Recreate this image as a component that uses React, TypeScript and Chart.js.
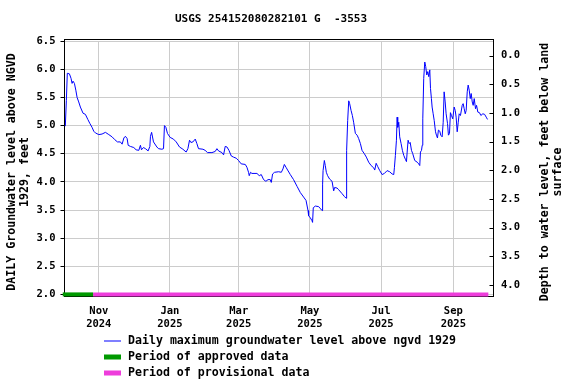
import React, { useEffect, useRef } from "react";
import { Chart, registerables } from "chart.js";

Chart.register(...registerables);

// ---------- data ----------
const TITLE = "USGS 254152080282101 G  -3553";
const Y_LEFT_TITLE = ["DAILY Groundwater level above NGVD", "1929, feet"];
const Y_RIGHT_TITLE = ["Depth to water level, feet below land", "surface"];

// x values are days since 2024-10-01
const X_TICK_DAYS = [31, 92, 151, 212, 273, 335];
const X_TICK_LABELS = [
  ["Nov", "2024"],
  ["Jan", "2025"],
  ["Mar", "2025"],
  ["May", "2025"],
  ["Jul", "2025"],
  ["Sep", "2025"],
];
const LEFT_TICKS = [2.0, 2.5, 3.0, 3.5, 4.0, 4.5, 5.0, 5.5, 6.0, 6.5];
const RIGHT_TICKS = [0.0, 0.5, 1.0, 1.5, 2.0, 2.5, 3.0, 3.5, 4.0];

const DAYS = [
  2.3, 3.2, 4.0, 5.8, 7.2, 8.1, 8.9, 10.1, 11.3, 12.4, 13.8, 15.2, 17.5, 19.5, 21.6, 23.3, 25.2, 26.7, 28.1,
  31.0, 33.8, 36.7, 39.6, 42.4, 44.7, 47.0, 49.5, 51.0, 52.5, 53.8, 55.3, 56.2, 58.1, 61.0, 63.0, 65.3, 66.7,
  67.6, 69.3, 71.0, 73.3, 74.8, 75.3, 76.3, 77.9, 80.8, 82.2, 85.1, 86.5, 87.3, 88.5, 89.9, 92.2, 95.0, 97.4,
  100.2, 103.1, 105.9, 107.4, 108.8, 110.0, 111.7, 113.7, 115.1, 116.5, 120.3, 122.2, 124.2, 128.0, 130.8,
  132.3, 133.7, 136.6, 138.0, 139.4, 140.9, 142.6, 144.6, 146.5, 148.9, 150.8, 153.1, 156.6, 158.0, 159.4,
  160.0, 161.1, 162.3, 166.6, 168.6, 170.3, 172.3, 174.3, 176.1, 178.0, 178.9, 180.0, 181.7, 185.2, 187.5,
  188.9, 190.1, 191.5, 192.9, 195.2, 198.0, 201.0, 203.8, 206.6, 208.7, 210.4, 210.9, 212.4, 213.8, 214.3,
  214.9, 216.7, 219.5, 221.2, 222.4, 222.9, 223.3, 224.4, 225.2, 226.1, 227.2, 228.9, 231.0, 232.4, 233.2,
  235.3, 236.7, 239.6, 241.6, 243.0, 243.5, 244.4, 245.3, 246.1, 247.3, 248.4, 249.5, 251.0, 252.5, 253.8,
  255.3, 256.7, 258.7, 260.4, 262.4, 264.5, 266.7, 267.6, 268.8, 270.2, 271.9, 273.9, 275.9, 278.2, 280.4,
  282.5, 283.9, 284.5, 285.3, 286.2, 286.8, 287.3, 288.2, 289.0, 290.2, 291.3, 292.5, 293.9, 294.8, 295.4,
  296.2, 297.1, 298.0, 299.1, 300.2, 301.9, 304.0, 305.3, 306.2, 306.8, 307.7, 308.3, 308.8, 309.6, 310.5,
  311.3, 312.2, 313.1, 313.9, 314.8, 315.4, 316.2, 316.8, 317.7, 318.6, 319.7, 320.5, 321.4, 322.2, 323.4,
  324.2, 325.4, 326.3, 327.1, 328.0, 328.8, 330.0, 330.8, 331.7, 332.5, 333.4, 334.5, 335.7, 336.6, 337.4,
  338.3, 339.2, 340.0, 341.1, 342.6, 343.4, 344.3, 345.2, 346.0, 346.9, 347.7, 348.6, 349.5, 350.3, 351.2,
  352.0, 352.9, 354.0, 354.9, 356.0, 357.4, 358.6, 360.3, 361.8, 363.2, 364.3,
];
const LEVELS = [
  4.99, 5.45, 5.93, 5.92, 5.84, 5.75, 5.79, 5.75, 5.63, 5.5, 5.42, 5.33, 5.22, 5.2, 5.11, 5.04, 4.97, 4.9, 4.87,
  4.84, 4.85, 4.88, 4.84, 4.8, 4.75, 4.71, 4.71, 4.67, 4.78, 4.81, 4.77, 4.65, 4.63, 4.61, 4.57, 4.56, 4.65,
  4.57, 4.61, 4.59, 4.55, 4.63, 4.81, 4.88, 4.71, 4.62, 4.59, 4.58, 4.59, 5.0, 4.97, 4.86, 4.79, 4.76, 4.71,
  4.62, 4.58, 4.53, 4.59, 4.74, 4.7, 4.71, 4.76, 4.68, 4.59, 4.58, 4.56, 4.52, 4.52, 4.54,
  4.59, 4.55, 4.52, 4.48, 4.63, 4.62, 4.56, 4.46, 4.44, 4.42, 4.38, 4.32, 4.31, 4.26, 4.17,
  4.11, 4.17, 4.15, 4.15, 4.11, 4.13, 4.04, 4.01, 4.04, 4.04, 3.99, 4.14, 4.17, 4.18, 4.17,
  4.23, 4.31, 4.26, 4.21, 4.13, 4.04, 3.92, 3.81, 3.73, 3.67, 3.49, 3.4, 3.36, 3.31, 3.28,
  3.54, 3.57, 3.56, 3.52, 3.49, 3.96, 4.2, 4.38, 4.29, 4.17, 4.11, 4.05, 4.01, 3.84, 3.9,
  3.89, 3.86, 3.79, 3.74, 3.71, 4.56, 5.09, 5.44, 5.39, 5.27, 5.18, 5.06, 4.86, 4.83, 4.77,
  4.68, 4.56, 4.5, 4.44, 4.35, 4.29, 4.25, 4.21, 4.33, 4.27, 4.2, 4.13, 4.15, 4.2, 4.18,
  4.14, 4.13, 4.26, 4.47, 4.74, 5.15, 4.97, 5.06, 4.8, 4.68, 4.56, 4.47, 4.4, 4.36, 4.53,
  4.74, 4.68, 4.7, 4.56, 4.5, 4.38, 4.35, 4.32, 4.29, 4.53, 4.56, 4.65, 5.12, 5.84, 6.13,
  6.05, 5.9, 5.96, 5.87, 5.99, 5.66, 5.48, 5.33, 5.21, 5.09, 4.89, 4.83, 4.78, 4.92, 4.9,
  4.83, 4.8, 5.06, 5.6, 5.42, 5.21, 5.04, 4.83, 4.86, 5.23, 5.18, 5.12, 5.33, 5.27, 5.15,
  4.89, 5.06, 5.21, 5.18, 5.36, 5.39, 5.3, 5.21, 5.27, 5.6, 5.72, 5.63, 5.48, 5.57, 5.42,
  5.36, 5.48, 5.3, 5.36, 5.24, 5.23, 5.18, 5.21, 5.2, 5.15, 5.11,
];

const APPROVED_DAYS = [0.1, 26.1];
const PROVISIONAL_DAYS = [26.1, 365.0];

const LEGEND_LABELS = [
  "Daily maximum groundwater level above ngvd 1929",
  "Period of approved data",
  "Period of provisional data",
];
const LEGEND_COLORS = ["#0000ff", "#009900", "#ee3ddb"];

// ---------- layout ----------
const W = 576;
const H = 384;
const FONT = "DejaVu Sans Mono";

export default function App() {
  const ref = useRef<HTMLCanvasElement | null>(null);

  useEffect(() => {
    const canvas = ref.current;
    if (!canvas) return;

    const decor = {
      id: "decor",
      beforeDatasetsDraw(chart: any) {
        const { ctx, chartArea: a } = chart;
        ctx.save();
        ctx.strokeStyle = "#000";
        ctx.lineWidth = 1;
        const l = Math.round(a.left) - 0.5;
        const r = Math.round(a.right) + 0.5;
        const t = Math.round(a.top) - 1.5;
        const b = Math.round(a.bottom) + 2.5;
        ctx.strokeRect(l, t, r - l, b - t);
        // inward tick marks for the right axis
        const ry = chart.scales.y1;
        ctx.beginPath();
        ry.ticks.forEach((tk: any) => {
          const y = Math.round(ry.getPixelForValue(tk.value)) + 0.5;
          ctx.moveTo(r - 4, y);
          ctx.lineTo(r, y);
        });
        ctx.stroke();
        ctx.restore();
      },
      afterDraw(chart: any) {
        const { ctx } = chart;
        ctx.save();
        ctx.fillStyle = "#000";
        // title
        ctx.font = `bold 11px "${FONT}"`;
        ctx.textAlign = "center";
        ctx.textBaseline = "middle";
        ctx.fillText(TITLE, 271, 19);

        // left axis title
        ctx.font = `bold 11.6px "${FONT}"`;
        ctx.save();
        ctx.translate(11.5, 172);
        ctx.rotate(-Math.PI / 2);
        ctx.fillText(Y_LEFT_TITLE[0], 0, 0);
        ctx.fillText(Y_LEFT_TITLE[1], 0, 13.3);
        ctx.restore();

        // right axis title
        ctx.save();
        ctx.translate(545, 172);
        ctx.rotate(-Math.PI / 2);
        ctx.fillText(Y_RIGHT_TITLE[0], 0, 0);
        ctx.fillText(Y_RIGHT_TITLE[1], 0, 13.3);
        ctx.restore();

        // legend
        const rows = [341, 357, 373];
        ctx.textAlign = "left";
        LEGEND_LABELS.forEach((label, i) => {
          const y = rows[i];
          ctx.fillStyle = LEGEND_COLORS[i];
          if (i === 0) {
            ctx.fillRect(104, y - 0.5, 17, 1);
          } else {
            ctx.fillRect(104, y - 2.5, 17, 5);
          }
          ctx.fillStyle = "#000";
          ctx.fillText(label, 128, y);
        });
        ctx.restore();
      },
    };

    const tickFont = { family: FONT, size: 10.5, weight: "bold" as const };

    const chart = new Chart(canvas, {
      type: "line",
      data: {
        datasets: [
          {
            label: LEGEND_LABELS[0],
            data: DAYS.map((d, i) => ({ x: d, y: LEVELS[i] })),
            borderColor: LEGEND_COLORS[0],
            borderWidth: 1,
            pointRadius: 0,
            tension: 0,
            yAxisID: "y",
          },
          {
            label: LEGEND_LABELS[1],
            data: APPROVED_DAYS.map((d) => ({ x: d, y: 2.0 })),
            borderColor: LEGEND_COLORS[1],
            borderWidth: 4,
            pointRadius: 0,
            borderCapStyle: "butt",
            clip: false as any,
            yAxisID: "y",
          },
          {
            label: LEGEND_LABELS[2],
            data: PROVISIONAL_DAYS.map((d) => ({ x: d, y: 2.0 })),
            borderColor: LEGEND_COLORS[2],
            borderWidth: 4,
            pointRadius: 0,
            borderCapStyle: "butt",
            clip: false as any,
            yAxisID: "y",
          },
        ],
      },
      options: {
        animation: false,
        responsive: false,
        maintainAspectRatio: false,
        layout: { padding: { top: 41.2, left: 0, right: 0, bottom: 0 } },
        plugins: {
          legend: { display: false },
          title: { display: false },
          tooltip: { enabled: false },
        },
        scales: {
          x: {
            type: "linear",
            min: 1.6,
            max: 369.0,
            afterBuildTicks: (s: any) => {
              s.ticks = X_TICK_DAYS.map((v) => ({ value: v }));
            },
            afterFit: (s: any) => {
              s.height = H - 294.4;
            },
            grid: { color: "#cccccc", lineWidth: 1, drawTicks: false },
            border: { display: false },
            ticks: {
              autoSkip: false,
              maxRotation: 0,
              padding: 11,
              color: "#000",
              font: tickFont,
              callback: (_v: any, i: number) => X_TICK_LABELS[i],
            },
          },
          y: {
            type: "linear",
            position: "left",
            min: 2.0,
            max: 6.5,
            afterBuildTicks: (s: any) => {
              s.ticks = LEFT_TICKS.map((v) => ({ value: v }));
            },
            afterFit: (s: any) => {
              s.width = 64.5;
            },
            grid: { color: "#cccccc", lineWidth: 1, tickColor: "#000", tickLength: 4 },
            border: { display: false },
            ticks: {
              padding: 5,
              color: "#000",
              font: tickFont,
              callback: (v: any) => Number(v).toFixed(1),
            },
          },
          y1: {
            type: "linear",
            position: "right",
            reverse: true,
            min: -0.253,
            max: 4.164,
            afterBuildTicks: (s: any) => {
              s.ticks = RIGHT_TICKS.map((v) => ({ value: v }));
            },
            afterFit: (s: any) => {
              s.width = W - 493;
            },
            grid: { drawOnChartArea: false, drawTicks: false },
            border: { display: false },
            ticks: {
              padding: 8,
              color: "#000",
              font: tickFont,
              callback: (v: any) => Number(v).toFixed(1),
            },
          },
        },
      },
      plugins: [decor],
    });

    return () => chart.destroy();
  }, []);

  return (
    <div style={{ position: "absolute", left: 0, top: 0, width: W, height: H, background: "#fff" }}>
      <canvas ref={ref} width={W} height={H} style={{ width: W, height: H, display: "block" }} />
    </div>
  );
}
